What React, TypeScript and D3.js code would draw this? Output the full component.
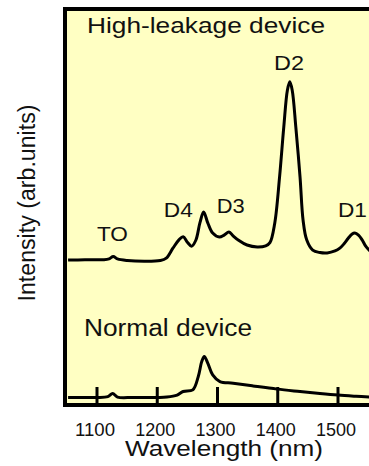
import React from "react";
import * as d3 from "d3";

// High-leakage device spectrum (wavelength nm, intensity arb.units)
const hlWave = [1052, 1080, 1110, 1120, 1127, 1134, 1150, 1180, 1205, 1215, 1226, 1236, 1243, 1250, 1257, 1264, 1271, 1277, 1284, 1292, 1303, 1311, 1319, 1326, 1335, 1349, 1366, 1380, 1387, 1395, 1403, 1410, 1416, 1420, 1424, 1430, 1437, 1442, 1448, 1458, 1470, 1482, 1495, 1503, 1510, 1517, 1523, 1528, 1534, 1540, 1546, 1553];
const hlInt = [36.5, 36.6, 36.6, 36.8, 37.4, 36.8, 36.4, 36.2, 36.4, 37.0, 39.5, 41.6, 42.4, 41.0, 40.0, 41.5, 46.0, 48.6, 45.8, 43.3, 42.3, 42.8, 43.6, 42.6, 41.5, 40.3, 39.8, 40.1, 40.9, 45.8, 57.4, 70.0, 79.3, 81.4, 79.3, 70.0, 57.4, 46.6, 41.6, 39.0, 38.4, 38.3, 38.8, 39.5, 40.6, 42.0, 43.0, 43.3, 42.8, 41.6, 40.0, 38.8];

// Normal device spectrum
const nmWave = [1052, 1080, 1100, 1118, 1126, 1134, 1160, 1200, 1216, 1233, 1243, 1259, 1268, 1274, 1278, 1284, 1292, 1304, 1326, 1359, 1399, 1437, 1470, 1500, 1530, 1553];
const nmInt = [1.9, 1.9, 1.9, 2.1, 2.9, 2.0, 1.9, 1.9, 2.0, 2.5, 3.4, 3.8, 7.1, 11.0, 12.2, 10.5, 7.6, 5.9, 5.5, 4.8, 4.0, 3.4, 2.9, 2.5, 2.2, 2.0];

const tickValues = [1100, 1200, 1300, 1400, 1500];
const tickLabels = ["1100", "1200", "1300", "1400", "1500"];

const peakNames = ["TO", "D4", "D3", "D2", "D1"];
const peakWave = [1125.7, 1235, 1322, 1418.7, 1524];
const peakLabelInt = [41.3, 47.4, 48.4, 84.4, 47.4];

const xTitle = "Wavelength (nm)";
const yTitle = "Intensity (arb.units)";
const series1Title = "High-leakage device";
const series2Title = "Normal device";

export default function App() {
  const W = 369;
  const H = 466;
  const left = 65;
  const top = 9;
  const bottom = 405;
  const x = d3.scaleLinear().domain([1100, 1500]).range([97, 338]);
  const y = d3.scaleLinear().domain([0, 100]).range([bottom, 8]);

  const line = d3
    .line<[number, number]>()
    .x((d) => x(d[0]))
    .y((d) => y(d[1]))
    .curve(d3.curveCatmullRom.alpha(0.5));

  const hl: [number, number][] = hlWave.map((w, i) => [w, hlInt[i]]);
  const nm: [number, number][] = nmWave.map((w, i) => [w, nmInt[i]]);

  const font = "'Liberation Sans', Arial, sans-serif";
  const peakLens = [31, 29, 28, 30, 29];

  return (
    <svg
      width={W}
      height={H}
      style={{ position: "absolute", left: 0, top: 0, display: "block" }}
    >
      <rect x={0} y={0} width={W} height={H} fill="#ffffff" />
      <defs>
        <clipPath id="plotclip">
          <rect x={left} y={top} width={W - left + 10} height={bottom - top} />
        </clipPath>
      </defs>
      <rect
        x={left}
        y={top}
        width={W - left + 20}
        height={bottom - top}
        fill="#ffffc3"
        stroke="#000"
        strokeWidth={4}
      />
      <g clipPath="url(#plotclip)">
        <path d={line(hl) || ""} fill="none" stroke="#000" strokeWidth={3} strokeLinejoin="round" />
        <path d={line(nm) || ""} fill="none" stroke="#000" strokeWidth={3} strokeLinejoin="round" />
      </g>
      {tickValues.map((t, i) => (
        <g key={t}>
          <line x1={x(t)} x2={x(t)} y1={bottom} y2={bottom - 18} stroke="#000" strokeWidth={3} />
          <text
            x={x(t) - 22}
            y={436}
            fontFamily={font}
            fontSize={19}
            textLength={40}
            lengthAdjust="spacingAndGlyphs"
            fill="#111"
          >
            {tickLabels[i]}
          </text>
        </g>
      ))}
      {peakNames.map((p, i) => (
        <text
          key={p}
          x={x(peakWave[i]) - peakLens[i] / 2}
          y={y(peakLabelInt[i])}
          fontFamily={font}
          fontSize={21}
          textLength={peakLens[i]}
          lengthAdjust="spacingAndGlyphs"
          fill="#111"
        >
          {p}
        </text>
      ))}
      <text
        x={87}
        y={33}
        fontFamily={font}
        fontSize={22.5}
        textLength={238}
        lengthAdjust="spacingAndGlyphs"
        fill="#111"
      >
        {series1Title}
      </text>
      <text
        x={84}
        y={336}
        fontFamily={font}
        fontSize={23}
        textLength={168}
        lengthAdjust="spacingAndGlyphs"
        fill="#111"
      >
        {series2Title}
      </text>
      <text
        x={125}
        y={456}
        fontFamily={font}
        fontSize={21.5}
        textLength={198}
        lengthAdjust="spacingAndGlyphs"
        fill="#111"
      >
        {xTitle}
      </text>
      <text
        transform={`translate(35,${203}) rotate(-90)`}
        textAnchor="middle"
        fontFamily={font}
        fontSize={23}
        textLength={197}
        lengthAdjust="spacingAndGlyphs"
        fill="#111"
      >
        {yTitle}
      </text>
    </svg>
  );
}
